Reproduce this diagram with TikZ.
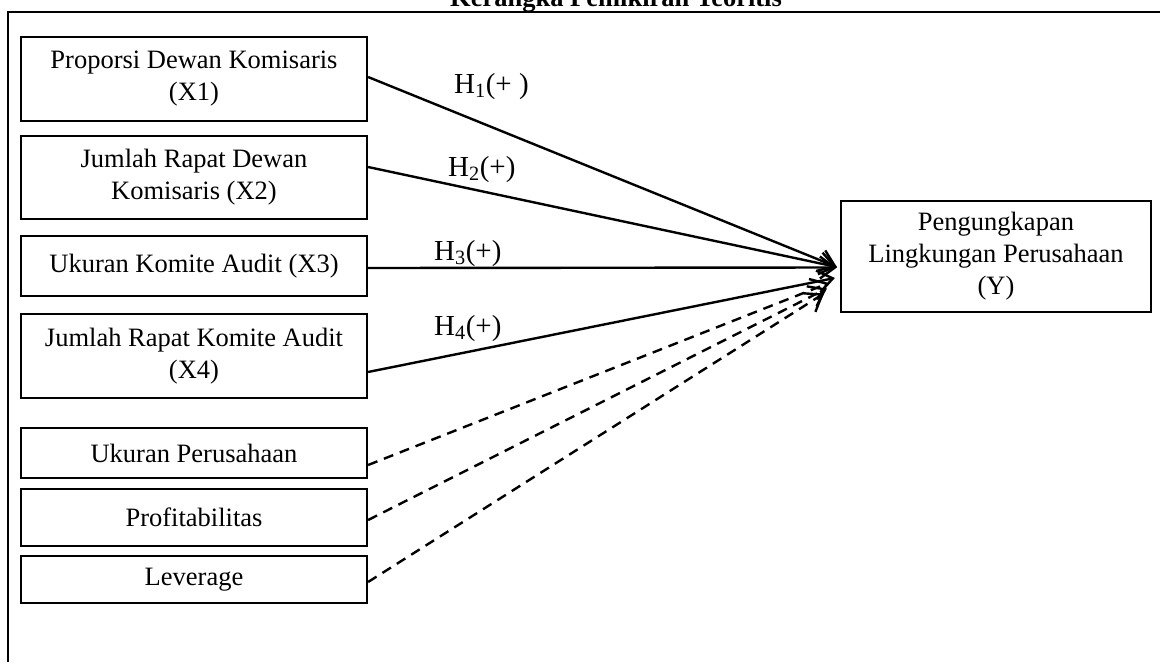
\documentclass[tikz,border=0pt]{standalone}
\usepackage{fontspec}
\setmainfont{Liberation Serif}
\usetikzlibrary{arrows.meta}
\begin{document}
\begin{tikzpicture}[x=1pt,y=-1pt,
  txt/.style={font=\fontsize{26.5}{32}\selectfont},
  box/.style={draw, line width=2.2pt, minimum width=346pt, align=center, inner sep=0pt, txt},
  arr/.style={line width=2.4pt, -{Straight Barb[length=15pt,width=22pt,line width=2.4pt]}},
  darr/.style={arr, dash pattern=on 10pt off 7pt},
  lab/.style={anchor=base west, inner sep=0pt, font=\fontsize{29}{34}\selectfont}]
\useasboundingbox (0,0) rectangle (1160,662);
\node[anchor=base, inner sep=0pt, font=\fontsize{26.5}{32}\selectfont\bfseries] (title) at (616,6) {Kerangka Pemikiran Teoritis};
\draw[line width=2.2pt] (8,662) -- (8,12) -- (1160,12);
\node[box, minimum height=84pt] (x1) at (194,79) {Proporsi Dewan Komisaris\\(X1)};
\node[box, minimum height=83pt] (x2) at (194,177.5) {Jumlah Rapat Dewan\\Komisaris (X2)};
\node[box, minimum height=60pt] (x3) at (194,266) {Ukuran Komite Audit (X3)};
\node[box, minimum height=84pt] (x4) at (194,356) {Jumlah Rapat Komite Audit\\(X4)};
\node[box, minimum height=50pt] (c1) at (194,453) {Ukuran Perusahaan};
\node[box, minimum height=57pt] (c2) at (194,517.5) {Profitabilitas};
\node[box, minimum height=47pt] (c3) at (194,579.5) {Leverage};
\node[box, minimum width=310pt, minimum height=111pt] (y) at (996,256.5) {Pengungkapan\\Lingkungan Perusahaan\\(Y)};
\draw[arr] ([yshift=2pt]x1.east) -- ([xshift=-3pt,yshift=-10.5pt]y.west);
\draw[arr] ([yshift=10.5pt]x2.east) -- ([xshift=-3pt,yshift=-10.5pt]y.west);
\draw[arr] ([yshift=-2pt]x3.east) -- ([xshift=-3pt,yshift=-11pt]y.west);
\draw[arr] ([yshift=-16pt]x4.east) -- ([xshift=-5pt,yshift=-21.5pt]y.west);
\draw[darr] ([yshift=-12pt]c1.east) -- ([xshift=-11pt,yshift=-26.5pt]y.west);
\draw[darr] ([yshift=-2.5pt]c2.east) -- ([xshift=-13pt,yshift=-32pt]y.west);
\draw[darr] ([yshift=-2.5pt]c3.east) -- ([xshift=-16pt,yshift=-37pt]y.west);
\node[lab] (h1) at (454,93) {H\textsubscript{1}(+ )};
\node[lab] (h2) at (448,176) {H\textsubscript{2}(+)};
\node[lab] (h3) at (434,260) {H\textsubscript{3}(+)};
\node[lab] (h4) at (434,335) {H\textsubscript{4}(+)};
\end{tikzpicture}
\end{document}
